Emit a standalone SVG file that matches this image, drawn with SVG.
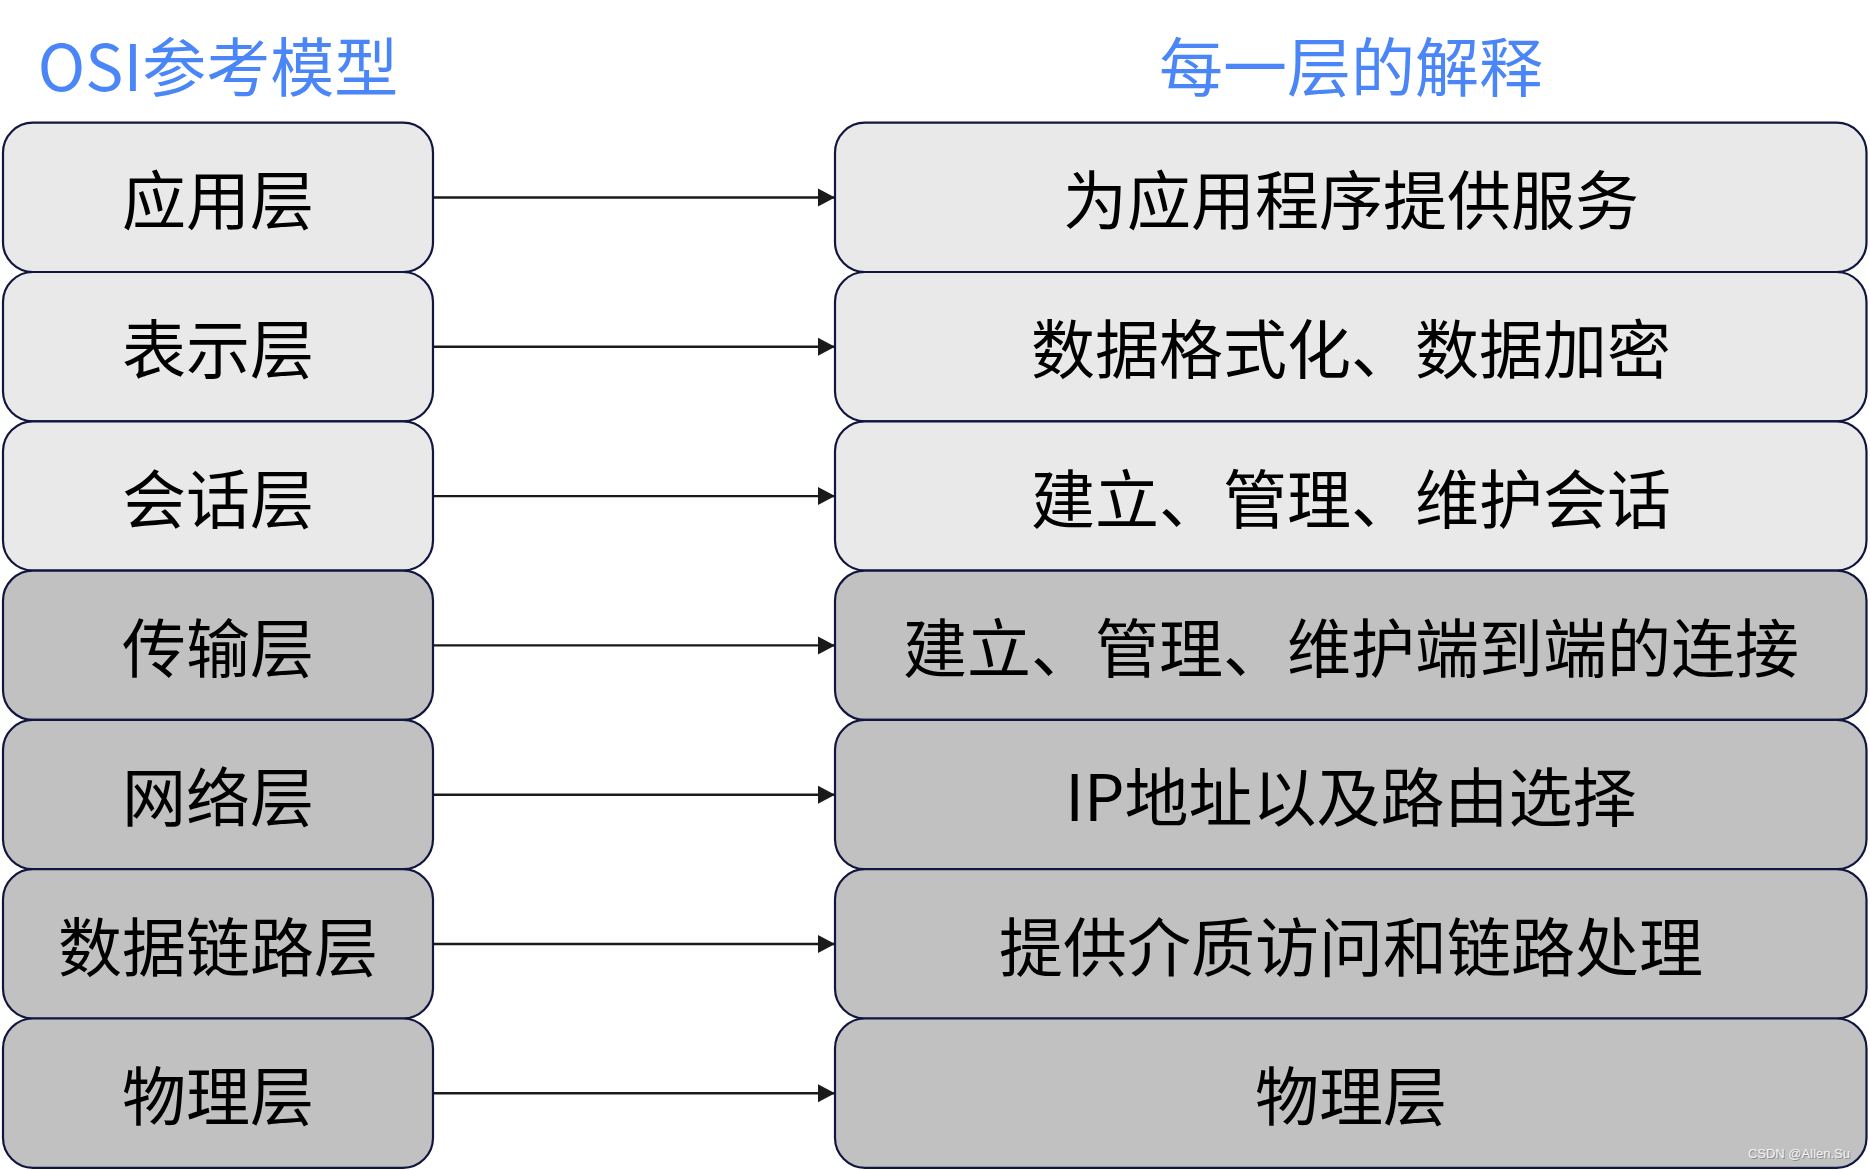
<svg xmlns="http://www.w3.org/2000/svg" width="1870" height="1170" viewBox="0 0 1870 1170">
<style>
.title{font-family:"Noto Sans CJK SC","Noto Sans",sans-serif;font-size:64px;fill:#4a86f7;text-anchor:middle}
.lbl{font-family:"Noto Sans CJK SC","Noto Sans",sans-serif;font-size:64px;fill:#000;text-anchor:middle}
.box{stroke:#10163f;stroke-width:2.2}
.l{fill:#e9e9e9}
.d{fill:#c1c1c1}
.conn{stroke:#1a1a1a;stroke-width:2.4;fill:none}
.wm{font-family:"Liberation Sans",Arial,sans-serif;font-size:13px;text-anchor:end}
</style>
<defs>
<marker id="arr" markerUnits="userSpaceOnUse" markerWidth="18" markerHeight="20" refX="17" refY="10" orient="auto">
<path d="M0,1 L17,10 L0,19 Z" fill="#1a1a1a"/>
</marker>
</defs>
<rect width="1870" height="1170" fill="#fff"/>
<text class="title" x="218" y="91">OSI参考模型</text>
<text class="title" x="1351" y="91">每一层的解释</text>

<g id="connectors">
<line class="conn" x1="433" y1="197.5" x2="835" y2="197.5" marker-end="url(#arr)"/>
<line class="conn" x1="433" y1="346.8" x2="835" y2="346.8" marker-end="url(#arr)"/>
<line class="conn" x1="433" y1="496.1" x2="835" y2="496.1" marker-end="url(#arr)"/>
<line class="conn" x1="433" y1="645.4" x2="835" y2="645.4" marker-end="url(#arr)"/>
<line class="conn" x1="433" y1="794.7" x2="835" y2="794.7" marker-end="url(#arr)"/>
<line class="conn" x1="433" y1="944" x2="835" y2="944" marker-end="url(#arr)"/>
<line class="conn" x1="433" y1="1093.3" x2="835" y2="1093.3" marker-end="url(#arr)"/>
</g>

<g id="n-app"><rect class="box l" x="3" y="122.7" width="430" height="149.3" rx="30"/><text class="lbl" x="218" y="224">应用层</text></g>
<g id="n-pres"><rect class="box l" x="3" y="272" width="430" height="149.3" rx="30"/><text class="lbl" x="218" y="373.3">表示层</text></g>
<g id="n-sess"><rect class="box l" x="3" y="421.3" width="430" height="149.3" rx="30"/><text class="lbl" x="218" y="522.6">会话层</text></g>
<g id="n-trans"><rect class="box d" x="3" y="570.6" width="430" height="149.3" rx="30"/><text class="lbl" x="218" y="671.9">传输层</text></g>
<g id="n-net"><rect class="box d" x="3" y="719.9" width="430" height="149.3" rx="30"/><text class="lbl" x="218" y="821.2">网络层</text></g>
<g id="n-link"><rect class="box d" x="3" y="869.2" width="430" height="149.3" rx="30"/><text class="lbl" x="218" y="970.5">数据链路层</text></g>
<g id="n-phys"><rect class="box d" x="3" y="1018.5" width="430" height="149.3" rx="30"/><text class="lbl" x="218" y="1119.8">物理层</text></g>

<g id="e-app"><rect class="box l" x="835" y="122.7" width="1031.5" height="149.3" rx="30"/><text class="lbl" x="1351" y="224">为应用程序提供服务</text></g>
<g id="e-pres"><rect class="box l" x="835" y="272" width="1031.5" height="149.3" rx="30"/><text class="lbl" x="1351" y="373.3">数据格式化、数据加密</text></g>
<g id="e-sess"><rect class="box l" x="835" y="421.3" width="1031.5" height="149.3" rx="30"/><text class="lbl" x="1351" y="522.6">建立、管理、维护会话</text></g>
<g id="e-trans"><rect class="box d" x="835" y="570.6" width="1031.5" height="149.3" rx="30"/><text class="lbl" x="1351" y="671.9">建立、管理、维护端到端的连接</text></g>
<g id="e-net"><rect class="box d" x="835" y="719.9" width="1031.5" height="149.3" rx="30"/><text class="lbl" x="1351" y="821.2">IP地址以及路由选择</text></g>
<g id="e-link"><rect class="box d" x="835" y="869.2" width="1031.5" height="149.3" rx="30"/><text class="lbl" x="1351" y="970.5">提供介质访问和链路处理</text></g>
<g id="e-phys"><rect class="box d" x="835" y="1018.5" width="1031.5" height="149.3" rx="30"/><text class="lbl" x="1351" y="1119.8">物理层</text></g>

<text class="wm" x="1851" y="1159" fill="#8a8a8a">CSDN @Allen.Su</text>
<text class="wm" x="1850" y="1158" fill="#f4f4f4">CSDN @Allen.Su</text>
</svg>
